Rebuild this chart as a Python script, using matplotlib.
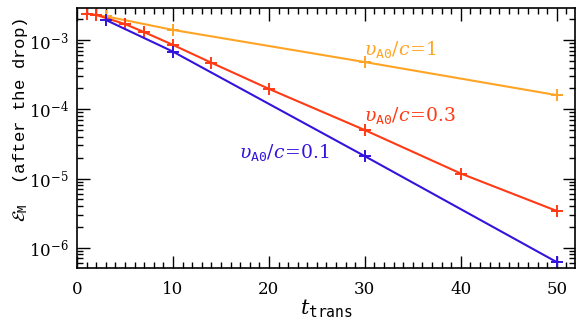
import matplotlib
matplotlib.use('Agg')
import matplotlib.pyplot as plt
from matplotlib.ticker import MultipleLocator, LogLocator, NullFormatter

# vA0/c = 1
t_c1 = [3, 10, 30, 50]
e_c1 = [2.2e-3, 1.4e-3, 4.8e-4, 1.6e-4]
# vA0/c = 0.3
t_c03 = [1, 2, 5, 7, 10, 14, 20, 30, 40, 50]
e_c03 = [2.4e-3, 2.3e-3, 1.7e-3, 1.3e-3, 8.5e-4, 4.7e-4, 1.97e-4, 5.0e-5, 1.18e-5, 3.4e-6]
# vA0/c = 0.1
t_c01 = [3, 10, 30, 50]
e_c01 = [1.95e-3, 6.8e-4, 2.1e-5, 6.2e-7]

labels = [r'$\upsilon_{\mathtt{A0}}/c\!=\!1$', r'$\upsilon_{\mathtt{A0}}/c\!=\!0.3$', r'$\upsilon_{\mathtt{A0}}/c\!=\!0.1$']
colors = ['#ffa424', '#ff3a14', '#3414dc']

plt.rcParams['font.family'] = ['DejaVu Serif']
plt.rcParams['mathtext.fontset'] = 'dejavuserif'

fig = plt.figure(figsize=(5.81, 3.23), dpi=100)
ax = fig.add_axes([77/581, 55/323, 498/581, 260/323])

for t, e, c in [(t_c1, e_c1, colors[0]), (t_c03, e_c03, colors[1]), (t_c01, e_c01, colors[2])]:
    ax.plot(t, e, color=c, lw=1.5, marker='+', ms=8, mew=1.4)

ax.set_yscale('log')
ax.set_xlim(0, 51.9)
ax.set_ylim(5.1e-7, 2.9e-3)

ax.text(29.9, 7.4e-4, labels[0], color=colors[0], fontsize=13.5, va='center', ha='left')
ax.text(29.9, 8.0e-5, labels[1], color=colors[1], fontsize=13.5, va='center', ha='left')
ax.text(16.9, 2.4e-5, labels[2], color=colors[2], fontsize=13.5, va='center', ha='left')

ax.xaxis.set_major_locator(MultipleLocator(10))
ax.xaxis.set_minor_locator(MultipleLocator(1))
ax.yaxis.set_major_locator(LogLocator(base=10, numticks=20))
ax.yaxis.set_minor_locator(LogLocator(base=10, subs=range(2, 10), numticks=20))
ax.yaxis.set_minor_formatter(NullFormatter())
ax.tick_params(which='both', direction='in', top=True, right=True, labelsize=12, width=1)
ax.tick_params(which='major', length=9)
ax.tick_params(which='minor', length=4)
ax.tick_params(axis='x', pad=9)
ax.tick_params(axis='y', pad=6)
for s in ax.spines.values():
    s.set_linewidth(1.2)

ax.set_xlabel(r'$t_{\mathtt{trans}}$', fontsize=15, labelpad=0)
ax.set_ylabel(r'$\mathcal{E}_{\mathtt{M}}$  ' + '(after the drop)', fontsize=12.5,
              family=['Liberation Mono', 'DejaVu Serif'])
ax.yaxis.set_label_coords(-0.095, 0.57)

fig.savefig('out.png', dpi=100)
